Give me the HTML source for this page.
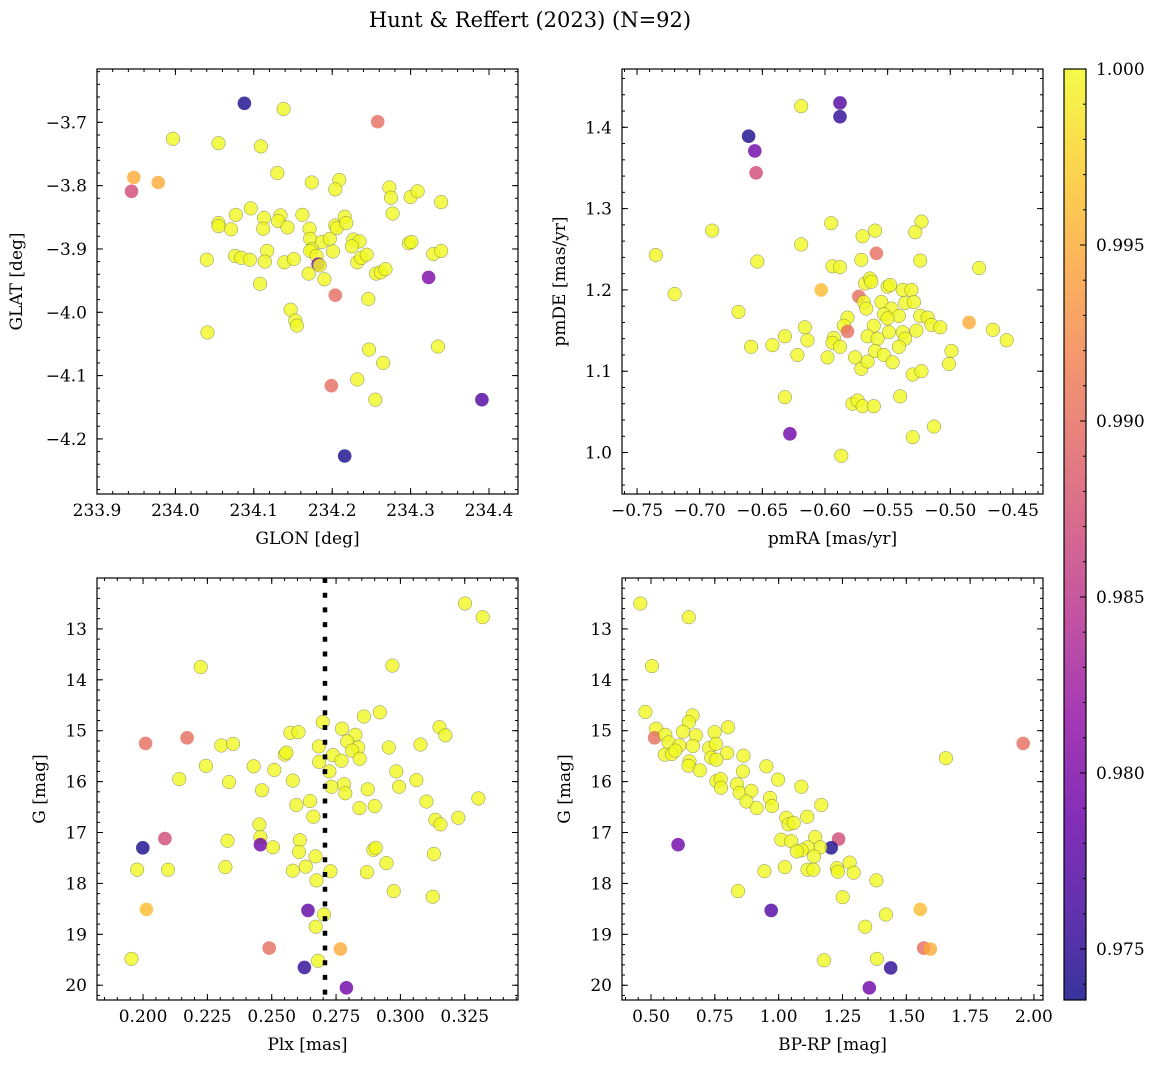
<!DOCTYPE html>
<html><head><meta charset="utf-8">
<style>
html,body{margin:0;padding:0;background:#fff;}
svg{display:block;font-family:"DejaVu Serif","Liberation Serif",serif;}
</style></head>
<body>
<svg id="fig" width="1161" height="1068" viewBox="0 0 1161 1068">
<defs>
<linearGradient id="plasma" x1="0" y1="1" x2="0" y2="0">
<stop offset="0" stop-color="#0d0887"/><stop offset="0.1" stop-color="#41049d"/><stop offset="0.2" stop-color="#6a00a8"/><stop offset="0.3" stop-color="#8f0da4"/><stop offset="0.4" stop-color="#b12a90"/><stop offset="0.5" stop-color="#cc4778"/><stop offset="0.6" stop-color="#e16462"/><stop offset="0.7" stop-color="#f2844b"/><stop offset="0.8" stop-color="#fca636"/><stop offset="0.9" stop-color="#fcce25"/><stop offset="1" stop-color="#f0f921"/>
</linearGradient>
</defs>
<text x="530" y="27" text-anchor="middle" font-size="21">Hunt &amp; Reffert (2023) (N=92)</text>
</svg>
<script>
// ---- data: top-left (GLON vs GLAT)
const tlGlon=[234.088,234.138,234.258,233.997,234.055,234.109,233.947,233.978,233.944,234.130,234.174,234.209,234.204,234.273,234.275,234.300,234.309,234.339,234.277,234.055,234.055,234.077,234.096,234.071,234.113,234.112,234.134,234.131,234.143,234.162,234.171,234.172,234.187,234.197,234.204,234.206,234.216,234.218,234.227,234.235,234.225,234.174,234.172,234.201,234.180,234.182,234.184,234.170,234.190,234.040,234.076,234.084,234.095,234.117,234.114,234.139,234.151,234.108,234.232,234.237,234.244,234.256,234.262,234.268,234.298,234.301,234.329,234.339,234.323,234.204,234.246,234.147,234.153,234.155,234.041,234.247,234.335,234.265,234.232,234.199,234.255,234.391,234.216];
const tlGlat=[-3.670,-3.679,-3.699,-3.726,-3.733,-3.738,-3.787,-3.795,-3.809,-3.780,-3.795,-3.791,-3.806,-3.803,-3.819,-3.818,-3.809,-3.826,-3.844,-3.859,-3.864,-3.846,-3.836,-3.869,-3.851,-3.868,-3.847,-3.856,-3.866,-3.846,-3.868,-3.884,-3.889,-3.884,-3.863,-3.867,-3.849,-3.859,-3.885,-3.888,-3.896,-3.900,-3.903,-3.904,-3.911,-3.924,-3.926,-3.939,-3.948,-3.917,-3.911,-3.914,-3.917,-3.903,-3.920,-3.921,-3.916,-3.955,-3.921,-3.914,-3.909,-3.939,-3.937,-3.932,-3.891,-3.889,-3.908,-3.903,-3.945,-3.973,-3.979,-3.996,-4.013,-4.021,-4.032,-4.059,-4.054,-4.080,-4.106,-4.116,-4.138,-4.138,-4.227];
const tlProb=[0.974,1,0.990,1,1,1,0.995,0.995,0.987,1, 1,1,1,1,1,1,1,1,1,1, 1,1,1,1,1,1,1,1,1,1, 1,1,1,1,1,1,1,1,1,1, 1,1,1,1,1,0.980,1,1,1,1, 1,1,1,1,1,1,1,1,1,1, 1,1,1,1,1,1,1,1,0.980,0.990, 1,1,1,1,1,1,1,1,1,0.990, 1,0.977,0.974];
// ---- data: top-right (pmRA vs pmDE)
const trPmra=[-0.588,-0.588,-0.619,-0.661,-0.656,-0.655,-0.595,-0.523,-0.528,-0.690,-0.570,-0.560,-0.619,-0.559,-0.735,-0.654,-0.571,-0.524,-0.477,-0.594,-0.588,-0.720,-0.603,-0.568,-0.564,-0.563,-0.550,-0.548,-0.538,-0.531,-0.573,-0.569,-0.567,-0.555,-0.536,-0.529,-0.547,-0.541,-0.553,-0.550,-0.524,-0.518,-0.515,-0.508,-0.485,-0.466,-0.455,-0.669,-0.582,-0.585,-0.582,-0.561,-0.549,-0.538,-0.536,-0.527,-0.566,-0.558,-0.541,-0.616,-0.614,-0.632,-0.642,-0.659,-0.622,-0.593,-0.594,-0.588,-0.598,-0.576,-0.571,-0.566,-0.560,-0.553,-0.546,-0.499,-0.501,-0.530,-0.523,-0.632,-0.578,-0.574,-0.570,-0.561,-0.540,-0.628,-0.513,-0.530,-0.587];
const trPmde=[1.430,1.413,1.426,1.389,1.371,1.344,1.282,1.284,1.271,1.273,1.266,1.273,1.256,1.245,1.243,1.235,1.237,1.236,1.227,1.229,1.228,1.195,1.200,1.208,1.214,1.210,1.204,1.206,1.200,1.200,1.192,1.185,1.177,1.185,1.184,1.185,1.177,1.168,1.170,1.165,1.168,1.166,1.157,1.154,1.160,1.151,1.138,1.173,1.166,1.156,1.149,1.156,1.148,1.148,1.140,1.150,1.143,1.140,1.130,1.154,1.138,1.143,1.132,1.130,1.120,1.141,1.135,1.130,1.117,1.117,1.103,1.112,1.125,1.120,1.111,1.125,1.109,1.096,1.100,1.068,1.060,1.064,1.057,1.057,1.069,1.023,1.032,1.019,0.996];
const trProb=[0.977,0.975,1,0.974,0.979,0.987,1,1,1,1, 1,1,1,0.990,1,1,1,1,1,1, 1,1,0.996,1,1,1,1,1,1,1, 0.990,1,1,1,1,1,1,1,1,1, 1,1,1,1,0.995,1,1,1,1,1, 0.990,1,1,1,1,1,1,1,1,1, 1,1,1,1,1,1,1,1,1,1, 1,1,1,1,1,1,1,1,1,1, 1,1,1,1,1,0.979,1,1,1];
// ---- data: bottom-left (Plx vs G)
const blPlx=[0.3251,0.3320,0.2224,0.2969,0.2920,0.2858,0.2698,0.3152,0.3175,0.2010,0.2171,0.2304,0.2350,0.2573,0.2604,0.2773,0.2825,0.2793,0.2683,0.2836,0.2812,0.2738,0.2771,0.2842,0.2955,0.3078,0.2551,0.2557,0.2684,0.2724,0.2244,0.2430,0.2510,0.2141,0.2334,0.2462,0.2582,0.2984,0.3062,0.2995,0.2732,0.2781,0.2786,0.2873,0.2900,0.2841,0.2596,0.2649,0.2662,0.3101,0.3303,0.3136,0.3156,0.3225,0.2452,0.2456,0.2456,0.2505,0.2328,0.1999,0.2085,0.2609,0.2606,0.2670,0.2632,0.2582,0.1977,0.2097,0.2320,0.2674,0.2728,0.2895,0.2904,0.2946,0.2870,0.3130,0.2974,0.3126,0.2013,0.2641,0.2703,0.2671,0.2490,0.2767,0.1955,0.2680,0.2627,0.2790];
const blG=[12.50,12.77,13.75,13.72,14.64,14.72,14.83,14.93,15.09,15.25,15.14,15.29,15.26,15.04,15.03,14.96,15.08,15.21,15.31,15.33,15.39,15.48,15.59,15.55,15.33,15.27,15.47,15.43,15.61,15.80,15.69,15.70,15.77,15.95,16.01,16.17,15.98,15.80,15.97,16.10,16.10,16.05,16.23,16.15,16.48,16.52,16.46,16.38,16.69,16.39,16.33,16.75,16.84,16.71,16.84,17.09,17.24,17.29,17.16,17.30,17.12,17.15,17.38,17.47,17.67,17.75,17.73,17.73,17.68,17.94,17.76,17.34,17.30,17.60,17.78,17.42,18.15,18.26,18.51,18.53,18.61,18.85,19.27,19.29,19.48,19.52,19.65,20.05];
const blProb=[1,1,1,1,1,1,1,1,1,0.990, 0.990,1,1,1,1,1,1,1,1,1, 1,1,1,1,1,1,1,1,1,1, 1,1,1,1,1,1,1,1,1,1, 1,1,1,1,1,1,1,1,1,1, 1,1,1,1,1,1,0.979,1,1,0.974, 0.987,1,1,1,1,1,1,1,1,1, 1,1,1,1,1,1,1,1,0.996,0.978, 1,1,0.990,0.995,1,1,0.975,0.979];
const blPlxRef=[0.2707];
// ---- data: bottom-right (BP-RP vs G)
const brColor=[0.458,0.648,0.504,0.478,0.663,0.648,0.802,0.520,0.514,0.556,0.625,0.676,0.749,0.569,0.611,0.664,0.728,0.754,0.798,0.554,0.582,0.595,0.651,0.647,0.691,0.736,0.756,0.862,0.860,0.952,0.998,1.089,0.756,0.773,0.774,0.837,0.847,0.893,0.874,0.914,0.966,0.974,1.167,1.112,1.030,1.039,1.059,1.010,1.049,1.143,1.235,1.206,1.163,1.114,1.090,1.071,1.139,0.606,1.024,1.113,1.136,1.228,1.232,1.278,1.294,0.944,1.383,0.841,1.251,1.655,1.958,0.971,1.555,1.420,1.339,1.568,1.594,1.178,1.385,1.439,1.355];
const brG=[12.50,12.77,13.73,14.63,14.70,14.83,14.93,14.96,15.14,15.08,15.02,15.09,15.03,15.23,15.29,15.30,15.34,15.26,15.44,15.47,15.46,15.39,15.60,15.69,15.78,15.53,15.57,15.49,15.80,15.70,15.96,16.10,15.99,15.95,16.12,16.05,16.22,16.18,16.39,16.52,16.32,16.48,16.46,16.69,16.71,16.84,16.81,17.14,17.17,17.09,17.13,17.30,17.29,17.29,17.35,17.37,17.47,17.24,17.68,17.73,17.73,17.70,17.77,17.59,17.79,17.76,17.94,18.15,18.27,15.54,15.25,18.53,18.51,18.61,18.85,19.27,19.29,19.51,19.48,19.66,20.05];
const brProb=[1,1,1,1,1,1,1,1,0.990,1, 1,1,1,1,1,1,1,1,1,1, 1,1,1,1,1,1,1,1,1,1, 1,1,1,1,1,1,1,1,1,1, 1,1,1,1,1,1,1,1,1,1, 0.987,0.974,1,1,1,1,1,0.979,1,1, 1,1,1,1,1,1,1,1,1,1, 0.990,0.977,0.996,1,1,0.990,0.995,1,1,0.975, 0.979];
// ---- tick labels
const tlXTicks=[233.9,234.0,234.1,234.2,234.3,234.4];
const tlYTicks=[-3.7,-3.8,-3.9,-4.0,-4.1,-4.2];
const trXTicks=[-0.75,-0.70,-0.65,-0.60,-0.55,-0.50,-0.45];
const trYTicks=[1.0,1.1,1.2,1.3,1.4];
const blXTicks=[0.200,0.225,0.250,0.275,0.300,0.325];
const gTicks=[13,14,15,16,17,18,19,20];
const brXTicks=[0.50,0.75,1.00,1.25,1.50,1.75,2.00];
const cbTicks=[0.975,0.980,0.985,0.990,0.995,1.000];
const cbMin=0.97355, cbMax=1.0;

const FS=17;
const NS="http://www.w3.org/2000/svg";
const svg=document.getElementById('fig');
function mk(tag,attrs,parent){const e=document.createElementNS(NS,tag);for(const k in attrs)e.setAttribute(k,attrs[k]);(parent||svg).appendChild(e);return e;}
const stops=[[13,8,135],[65,4,157],[106,0,168],[143,13,164],[177,42,144],[204,71,120],[225,100,98],[242,132,75],[252,166,54],[252,206,37],[240,249,33]];
function plasma(p){let t=(p-cbMin)/(cbMax-cbMin);t=Math.max(0,Math.min(1,t));const f=t*10,i=Math.min(9,Math.floor(f)),u=f-i;const a=stops[i],b=stops[i+1];return 'rgb('+[0,1,2].map(k=>Math.round(a[k]+(b[k]-a[k])*u)).join(',')+')';}
function fmt(v,d){const s=v.toFixed(d);return s.startsWith('-')?'\u2212'+s.slice(1):s;}

function panel(cfg){
  const {x0,x1,y0,y1,xd,yd,name}=cfg;
  const sx=v=>x0+(v-xd[0])/(xd[1]-xd[0])*(x1-x0);
  const sy=v=>y0+(v-yd[0])/(yd[1]-yd[0])*(y1-y0);
  const g=mk('g',{});
  
  
  const pg=mk('g',{},g);
  
  
  for(let i=0;i<cfg.xs.length;i++){
    const c=mk('circle',{cx:sx(cfg.xs[i]).toFixed(1),cy:sy(cfg.ys[i]).toFixed(1),r:6.8,fill:plasma(cfg.ps[i]),'fill-opacity':0.8,stroke:'#555','stroke-width':0.5,'stroke-opacity':cfg.ps[i]>0.999?0.7:0},pg);
    
    
  }
  if(cfg.extra)cfg.extra(sx,sy,g);
  const fr=mk('rect',{x:x0,y:y0,width:x1-x0,height:y1-y0,fill:'none',stroke:'#000','stroke-width':1.2},g);
  
  
  const tg=mk('g',{stroke:'#000','stroke-width':1},g);
  const lo=Math.min(...xd),hi=Math.max(...xd);
  for(let v=Math.ceil(lo/cfg.xmin-1e-6)*cfg.xmin;v<=hi+1e-9;v+=cfg.xmin){const X=sx(v);mk('line',{x1:X,y1:y1,x2:X,y2:y1-3},tg);mk('line',{x1:X,y1:y0,x2:X,y2:y0+3},tg);}
  const ylo=Math.min(...yd),yhi=Math.max(...yd);
  for(let v=Math.ceil(ylo/cfg.ymin-1e-6)*cfg.ymin;v<=yhi+1e-9;v+=cfg.ymin){const Y=sy(v);mk('line',{x1:x0,y1:Y,x2:x0+3,y2:Y},tg);mk('line',{x1:x1,y1:Y,x2:x1-3,y2:Y},tg);}
  cfg.xt.forEach(v=>{const X=sx(v);mk('line',{x1:X,y1:y1,x2:X,y2:y1-6},tg);mk('line',{x1:X,y1:y0,x2:X,y2:y0+6},tg);
    const t=mk('text',{x:X,y:y1+22,'text-anchor':'middle','font-size':FS},g);t.textContent=fmt(v,cfg.xdec);
    
    });
  cfg.yt.forEach(v=>{const Y=sy(v);mk('line',{x1:x0,y1:Y,x2:x0+6,y2:Y},tg);mk('line',{x1:x1,y1:Y,x2:x1-6,y2:Y},tg);
    const t=mk('text',{x:x0-10,y:Y+6,'text-anchor':'end','font-size':FS},g);t.textContent=fmt(v,cfg.ydec);
    
    });
  const xl=mk('text',{x:(x0+x1)/2,y:y1+50,'text-anchor':'middle','font-size':FS},g);xl.textContent=cfg.xlab;
  
  
  const yl=mk('text',{x:0,y:0,'text-anchor':'middle','font-size':FS,transform:`translate(${cfg.ylx},${(y0+y1)/2}) rotate(-90)`},g);yl.textContent=cfg.ylab;
  
  
}

panel({name:'glon-glat',x0:97,x1:518,y0:69,y1:494,xd:[233.9,234.437],yd:[-3.6158,-4.287],xs:tlGlon,ys:tlGlat,ps:tlProb,xt:tlXTicks,yt:tlYTicks,xmin:0.02,ymin:0.02,xdec:1,ydec:1,xlab:'GLON [deg]',ylab:'GLAT [deg]',ylx:22});
panel({name:'pm',x0:622,x1:1043,y0:69,y1:494,xd:[-0.762,-0.426],yd:[1.4717,0.949],xs:trPmra,ys:trPmde,ps:trProb,xt:trXTicks,yt:trYTicks,xmin:0.01,ymin:0.02,xdec:2,ydec:1,xlab:'pmRA [mas/yr]',ylab:'pmDE [mas/yr]',ylx:565});
panel({name:'plx-g',x0:97,x1:518,y0:578,y1:1000,xd:[0.1821,0.3457],yd:[12.0,20.29],xs:blPlx,ys:blG,ps:blProb,xt:blXTicks,yt:gTicks,xmin:0.005,ymin:0.2,xdec:3,ydec:0,xlab:'Plx [mas]',ylab:'G [mag]',ylx:45,
  extra:(sx,sy,g)=>{blPlxRef.forEach(v=>{const l=mk('line',{x1:sx(v),x2:sx(v),y1:578,y2:1000,stroke:'#000','stroke-width':4.5,'stroke-dasharray':'5 9.7'},g);
    
    });}});
panel({name:'cmd',x0:622,x1:1043,y0:578,y1:1000,xd:[0.3864,2.0355],yd:[12.0,20.29],xs:brColor,ys:brG,ps:brProb,xt:brXTicks,yt:gTicks,xmin:0.05,ymin:0.2,xdec:2,ydec:0,xlab:'BP-RP [mag]',ylab:'G [mag]',ylx:570});

const cb=mk('g',{});


const cbx0=1064,cbx1=1086,cby0=69,cby1=1000;
mk('rect',{x:cbx0,y:cby0,width:cbx1-cbx0,height:cby1-cby0,fill:'url(#plasma)','fill-opacity':0.82},cb);
mk('rect',{x:cbx0,y:cby0,width:cbx1-cbx0,height:cby1-cby0,fill:'none',stroke:'#000','stroke-width':1.2},cb);
const cy=v=>cby1-(v-cbMin)/(cbMax-cbMin)*(cby1-cby0);
for(let v=0.974;v<=1.0001;v+=0.001){mk('line',{x1:cbx1,x2:cbx1-3,y1:cy(v),y2:cy(v),stroke:'#000'},cb);}
cbTicks.forEach(v=>{mk('line',{x1:cbx1,x2:cbx1-6,y1:cy(v),y2:cy(v),stroke:'#000'},cb);
  const t=mk('text',{x:1096,y:cy(v)+6,'font-size':FS},cb);t.textContent=v.toFixed(3);
  
  });
</script>
</body></html>
